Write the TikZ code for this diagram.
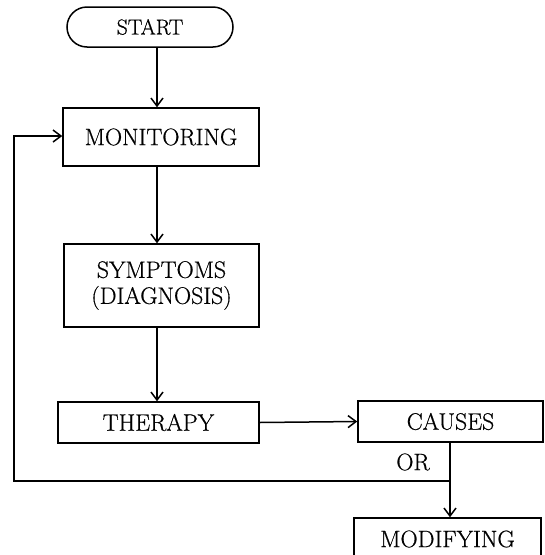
\documentclass[tikz,border=0pt]{standalone}
\usepackage{fontspec}
\setmainfont{Latin Modern Roman}[FakeBold=0.6]
\newfontfamily\boxfont{Latin Modern Roman}[FakeBold=0.6]
\usetikzlibrary{arrows.meta}
\begin{document}
\begin{tikzpicture}[x=1pt,y=-1pt,line width=1.5pt,
  box/.style={draw,rectangle,inner sep=0pt,font=\boxfont\fontsize{23.8}{26}\selectfont},
  lbl/.style={inner sep=0pt,font=\boxfont\fontsize{23.8}{26}\selectfont},
  arr/.style={-{Straight Barb[length=8pt,width=12pt,line width=1.5pt]}}]
\useasboundingbox (0,0) rectangle (545,555);
\node[box,minimum width=166pt,minimum height=40pt,rounded corners=20pt,font=\boxfont\fontsize{21.7}{24}\selectfont] (start) at (150,27) {START};
\node[box,minimum width=196pt,minimum height=58pt] (mon) at (161,137) {MONITORING};
\node[box,minimum width=195pt,minimum height=83pt,align=center] (sym) at (161.5,285.5) {SYMPTOMS\\(DIAGNOSIS)};
\node[box,minimum width=201pt,minimum height=41pt] (ther) at (158.5,422.5) {THERAPY};
\node[box,minimum width=185pt,minimum height=41pt] (cau) at (450.5,421.5) {CAUSES};
\node[box,minimum width=187pt,minimum height=42pt] (mod) at (447.5,539) {MODIFYING};
\node[lbl] (orl) at (413,462) {OR};
\coordinate (axis) at (157,0);
\coordinate (or) at (450,481);
\coordinate (lb) at (14,481);
\coordinate (lt) at (14,136);
\draw[arr] (start.south -| axis) -- (mon.north -| axis);
\draw[arr] (mon.south -| axis) -- (sym.north -| axis);
\draw[arr] (sym.south -| axis) -- (ther.north -| axis);
\draw[arr] (ther.east) -- (cau.west);
\draw[arr] (cau.south -| or) -- (mod.north -| or);
\draw[arr] (or) -- (lb) -- (lt) -- (mon.west |- lt);
\end{tikzpicture}
\end{document}
